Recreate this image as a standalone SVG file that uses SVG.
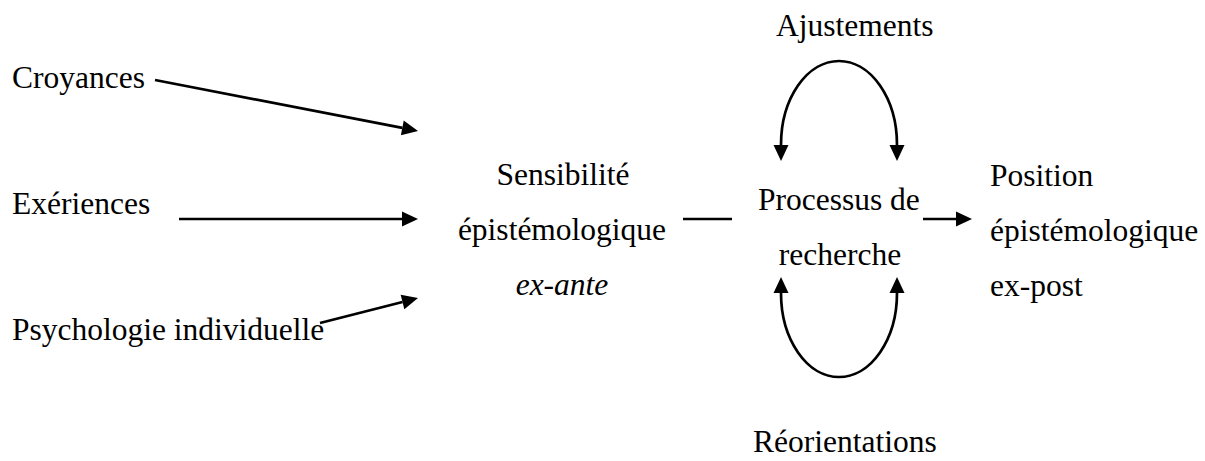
<svg xmlns="http://www.w3.org/2000/svg" width="1205" height="461" viewBox="0 0 1205 461">
<style>
text { font-family: "Liberation Serif", "Times New Roman", serif; font-size: 31.5px; fill: #000; }
.mid { text-anchor: middle; }
.it { font-style: italic; }
.conn { stroke: #000; stroke-width: 2.7; fill: none; }
</style>
<defs>
<marker id="ah" markerUnits="userSpaceOnUse" markerWidth="16" markerHeight="15" refX="0" refY="7.5" orient="auto-start-reverse" overflow="visible">
<path d="M0,0 L16,7.5 L0,15 z" fill="#000"/>
</marker>
</defs>
<g id="croyances"><text x="12" y="88">Croyances</text></g>
<g id="experiences"><text x="12" y="214">Exériences</text></g>
<g id="psychologie"><text x="12" y="340">Psychologie individuelle</text></g>
<g id="sensibilite">
<text class="mid" x="563" y="185">Sensibilité</text>
<text class="mid" x="562" y="240">épistémologique</text>
<text class="mid it" x="562" y="295">ex-ante</text>
</g>
<g id="ajustements"><text x="776" y="36">Ajustements</text></g>
<g id="processus">
<text x="758" y="210">Processus de</text>
<text class="mid" x="840" y="265">recherche</text>
</g>
<g id="reorientations"><text x="753" y="452">Réorientations</text></g>
<g id="position">
<text x="990" y="186">Position</text>
<text x="990" y="241">épistémologique</text>
<text x="990" y="296">ex-post</text>
</g>
<g id="connectors">
<line class="conn" x1="155" y1="80" x2="402.3" y2="127.9" marker-end="url(#ah)"/>
<line class="conn" x1="179" y1="219" x2="402" y2="219" marker-end="url(#ah)"/>
<line class="conn" x1="320" y1="323" x2="402.5" y2="302" marker-end="url(#ah)"/>
<line class="conn" x1="683" y1="219" x2="732" y2="219"/>
<line class="conn" x1="923" y1="219" x2="956" y2="219" marker-end="url(#ah)"/>
<path class="conn" d="M781,145 A58 84 0 0 1 897,145" marker-start="url(#ah)" marker-end="url(#ah)"/>
<path class="conn" d="M781,293 A58 84 0 0 0 897,293" marker-start="url(#ah)" marker-end="url(#ah)"/>
</g>
</svg>
